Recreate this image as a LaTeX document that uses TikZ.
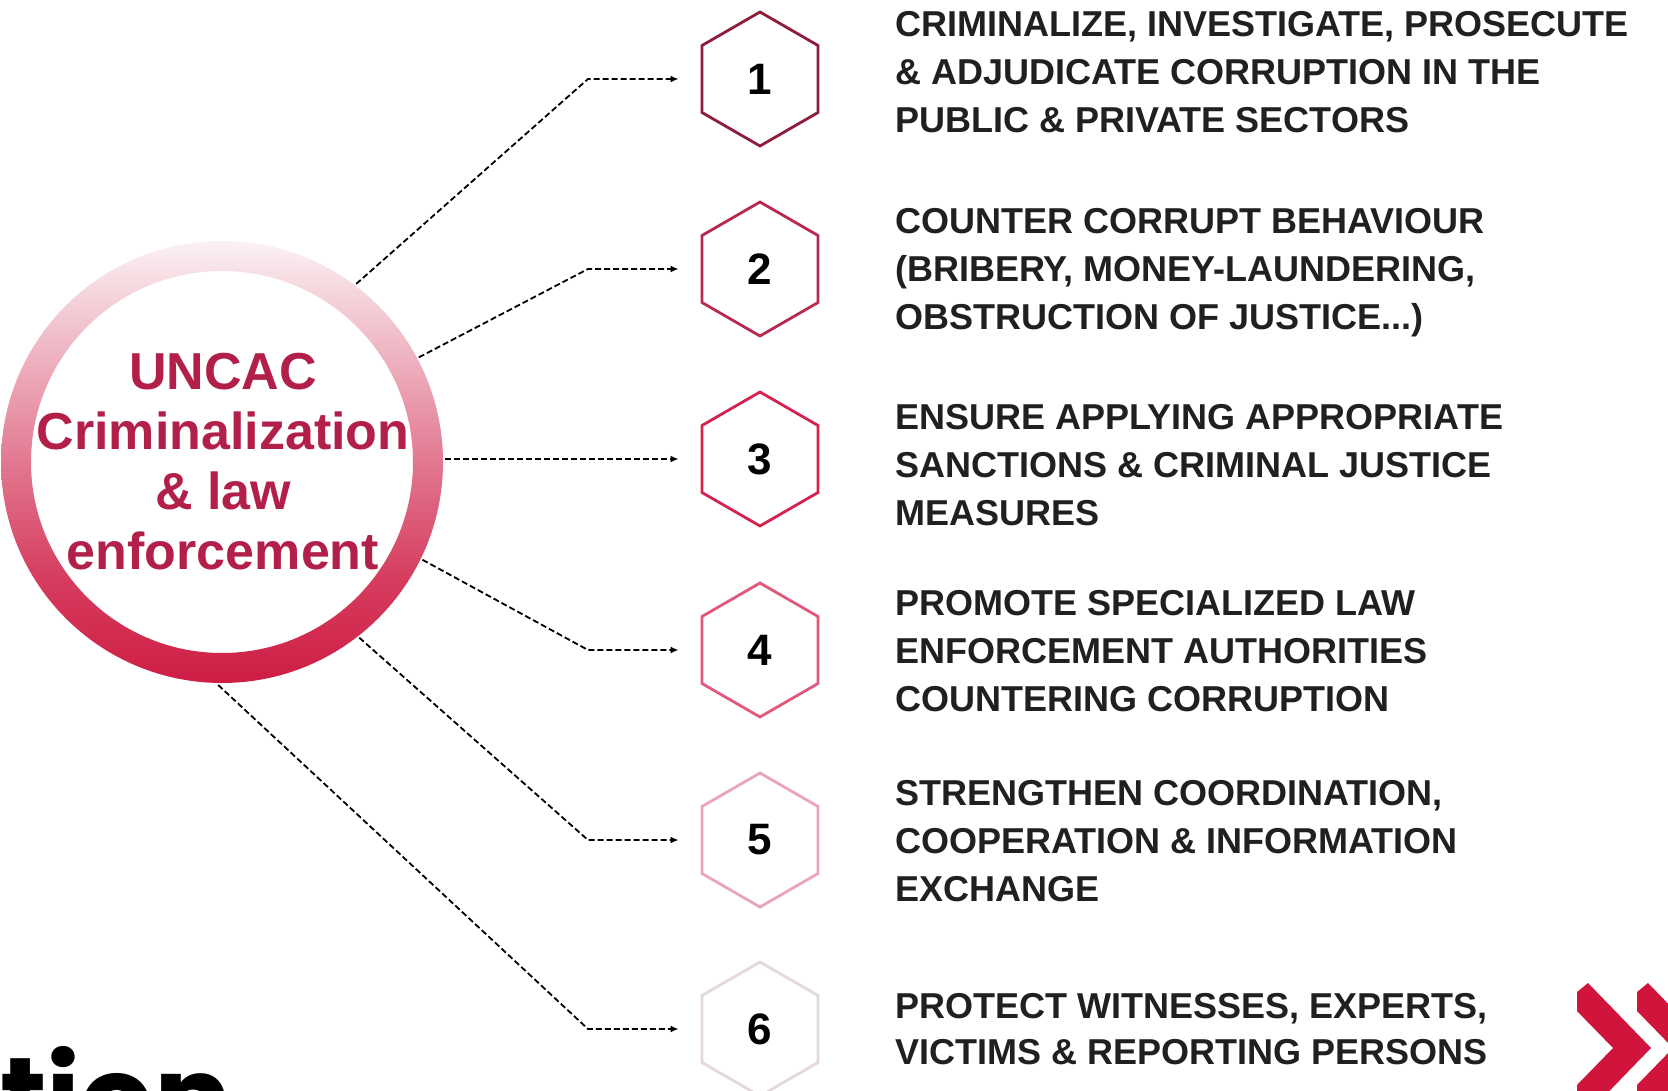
\documentclass[tikz,border=0pt]{standalone}
\usepackage{fontspec}
\setmainfont{Liberation Sans}
\newfontfamily\popfont{Poppins}
\usetikzlibrary{shapes.geometric,arrows.meta}
\definecolor{ringA}{HTML}{CF1D45}
\definecolor{ringB}{HTML}{D63D5E}
\definecolor{ringC}{HTML}{E27890}
\definecolor{ringD}{HTML}{EEB3C1}
\definecolor{ringE}{HTML}{FBF1F3}
\definecolor{ctext}{HTML}{B2204A}
\definecolor{txt}{HTML}{202020}
\definecolor{hA}{HTML}{8E1C3A}
\definecolor{hB}{HTML}{B8284F}
\definecolor{hC}{HTML}{D5224F}
\definecolor{hD}{HTML}{E2587A}
\definecolor{hE}{HTML}{EBA5B8}
\definecolor{hF}{HTML}{E3D8DB}
\definecolor{chev}{HTML}{D0143C}
\pgfdeclareverticalshading{ringshade}{100bp}{color(0bp)=(ringA); color(25bp)=(ringA); color(37bp)=(ringB); color(50bp)=(ringC); color(62bp)=(ringD); color(75bp)=(ringE); color(100bp)=(ringE)}
\begin{document}
\begin{tikzpicture}[x=1pt,y=-1pt,
  hexnode/.style={regular polygon, regular polygon sides=6, shape border rotate=30, minimum size=134pt, inner sep=0pt, line width=2.8pt, fill=white, font=\fontsize{44}{44}\selectfont\bfseries, text=black},
  conn/.style={line width=1.8pt, dash pattern=on 6pt off 3pt, -{Latex[length=8pt,width=7pt]}, shorten >=22pt},
  item/.style={anchor=base west, inner sep=0pt, font=\fontsize{36}{48}\selectfont\bfseries, text=txt}]
\useasboundingbox (0,0) rectangle (1668,1091);
\clip (0,0) rectangle (1668,1091);
\fill[white] (0,0) rectangle (1668,1091);

% central ring
\node[circle, minimum size=446pt, inner sep=0pt, outer sep=0pt] (c) at (222,462) {};
\shade[shading=ringshade, even odd rule] (c.center) circle[radius=221pt] (c.center) circle[radius=191pt];
\node[align=center, font=\fontsize{52}{60}\selectfont\bfseries, text=ctext, inner sep=0pt] (ct) at (223,462) {UNCAC\\Criminalization\\\& law\\enforcement};

% hexagons
\node[hexnode, draw=hA] (h1) at (760,79) {1};
\node[hexnode, draw=hB] (h2) at (760,269) {2};
\node[hexnode, draw=hC] (h3) at (760,459) {3};
\node[hexnode, draw=hD] (h4) at (760,650) {4};
\node[hexnode, draw=hE] (h5) at (760,840) {5};
\node[hexnode, draw=hF] (h6) at (760,1029) {6};

% elbows
\coordinate (e1) at (588,79);
\coordinate (e2) at (588,269);
\coordinate (e4) at (588,650);
\coordinate (e5) at (588,840);
\coordinate (e6) at (588,1029);

% connectors
\draw[conn] (c.53) -- (e1) -- (h1.west);
\draw[conn] (c.28) -- (e2) -- (h2.west);
\draw[conn] (c.east |- h3.west) -- (h3.west);
\draw[conn] (c.-26) -- (e4) -- (h4.west);
\draw[conn] (c.-52) -- (e5) -- (h5.west);
\draw[conn] (c.-91) -- (e6) -- (h6.west);

% texts
\node[item] (t1a) at (895,37) {CRIMINALIZE, INVESTIGATE, PROSECUTE};
\node[item] (t1b) at (895,85) {\& ADJUDICATE CORRUPTION IN THE};
\node[item] (t1c) at (895,133) {PUBLIC \& PRIVATE SECTORS};
\node[item] (t2a) at (895,234) {COUNTER CORRUPT BEHAVIOUR};
\node[item] (t2b) at (895,282) {(BRIBERY, MONEY-LAUNDERING,};
\node[item] (t2c) at (895,330) {OBSTRUCTION OF JUSTICE...)};
\node[item] (t3a) at (895,429) {ENSURE APPLYING APPROPRIATE};
\node[item] (t3b) at (895,477) {SANCTIONS \& CRIMINAL JUSTICE};
\node[item] (t3c) at (895,525) {MEASURES};
\node[item] (t4a) at (895,615) {PROMOTE SPECIALIZED LAW};
\node[item] (t4b) at (895,663) {ENFORCEMENT AUTHORITIES};
\node[item] (t4c) at (895,711) {COUNTERING CORRUPTION};
\node[item] (t5a) at (895,805) {STRENGTHEN COORDINATION,};
\node[item] (t5b) at (895,853) {COOPERATION \& INFORMATION};
\node[item] (t5c) at (895,901) {EXCHANGE};
\node[item] (t6a) at (895,1018) {PROTECT WITNESSES, EXPERTS,};
\node[item] (t6b) at (895,1064) {VICTIMS \& REPORTING PERSONS};

% cut-off title
\node[anchor=base west, inner sep=0pt, font=\popfont\bfseries\fontsize{115}{120}\selectfont, text=black] (tion) at (0,1138) {tion};

% chevrons
\fill[chev] (1577,992) -- (1588,983) -- (1651,1048) -- (1588,1113) -- (1577,1104) -- (1577,1085) -- (1613,1048) -- (1577,1011) -- cycle;
\fill[chev, xshift=60pt] (1577,992) -- (1588,983) -- (1651,1048) -- (1588,1113) -- (1577,1104) -- (1577,1085) -- (1613,1048) -- (1577,1011) -- cycle;
\end{tikzpicture}
\end{document}
